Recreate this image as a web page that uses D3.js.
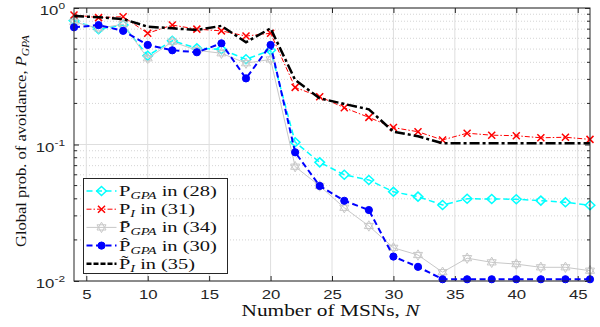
<!DOCTYPE html>
<html>
<head>
<meta charset="utf-8">
<script src="https://cdn.jsdelivr.net/npm/d3@7"></script>
<style>
  html, body { margin: 0; padding: 0; background: #fff; }
  svg { display: block; }
</style>
</head>
<body>
<svg id="chart" width="600" height="327"></svg>
<script>
// number of MSNs
const nValues = [4, 6, 8, 10, 12, 14, 16, 18, 20, 22, 24, 26, 28, 30, 32, 34, 36, 38, 40, 42, 44, 46];

// P_GPA in (28)
const pGpa28 = [0.81, 0.70, 0.75, 0.447, 0.576, 0.507, 0.498, 0.421, 0.49, 0.104, 0.074, 0.060, 0.055, 0.045, 0.0415, 0.036, 0.040, 0.0399, 0.0397, 0.0388, 0.0377, 0.0359];
// P_I in (31)
const pI31 = [0.89, 0.85, 0.864, 0.653, 0.75, 0.70, 0.68, 0.623, 0.653, 0.262, 0.224, 0.186, 0.158, 0.133, 0.124, 0.108, 0.121, 0.117, 0.116, 0.112, 0.113, 0.109];
// bar P_GPA in (34)
const pBar34 = [0.79, 0.71, 0.76, 0.428, 0.566, 0.49, 0.466, 0.394, 0.42, 0.0688, 0.0497, 0.0344, 0.0253, 0.0175, 0.0155, 0.0116, 0.0147, 0.0137, 0.0133, 0.0126, 0.0126, 0.0119];
// hat P_GPA in (30)
const pHat30 = [0.722, 0.75, 0.68, 0.536, 0.49, 0.474, 0.551, 0.305, 0.536, 0.0877, 0.0497, 0.0387, 0.0331, 0.0151, 0.0127, 0.0103, 0.0103, 0.0103, 0.0103, 0.0103, 0.0103, 0.0103];
// tilde P_I in (35)
const pTilde35 = [0.874, 0.855, 0.83, 0.73, 0.71, 0.69, 0.74, 0.561, 0.71, 0.297, 0.218, 0.198, 0.181, 0.124, 0.115, 0.102, 0.102, 0.102, 0.102, 0.102, 0.102, 0.102];

const xTicks = [5, 10, 15, 20, 25, 30, 35, 40, 45];
const yTicks = [0.01, 0.1, 1];
const yTickExp = ['-2', '-1', '0'];

const margin = { left: 74, right: 10, top: 8, bottom: 46 };
const width = 600, height = 327;
const iw = width - margin.left - margin.right;
const ih = height - margin.top - margin.bottom;

const svg = d3.select('#chart');
const g = svg.append('g').attr('transform', `translate(${margin.left},${margin.top})`);

const x = d3.scaleLinear().domain([4, 46]).range([0, iw]);
const y = d3.scaleLog().domain([0.01, 1]).range([ih, 0]);

const sans = '"Liberation Sans", Arial, sans-serif';
const serif = '"Liberation Serif", "DejaVu Serif", serif';
// the original figure was squeezed vertically, so its text looks wide
const stretch = 1.4;

// text inside a group that is scaled sideways; target width sets the scale
function wideText(parent, tx, ty, rot, target) {
  const outer = parent.append('g').attr('transform', `translate(${tx},${ty}) rotate(${rot})`);
  const inner = outer.append('g');
  const t = inner.append('text');
  return {
    t,
    fit() {
      const w = t.node().getComputedTextLength();
      inner.attr('transform', `scale(${(target / w).toFixed(3)},1)`);
    }
  };
}

// minor grid (dotted)
const minor = [];
[0.01, 0.1].forEach(d => { for (let k = 2; k <= 9; k++) minor.push(d * k); });
g.selectAll('.minor-grid').data(minor).enter().append('line')
  .attr('x1', 0).attr('x2', iw)
  .attr('y1', d => y(d)).attr('y2', d => y(d))
  .attr('stroke', '#d4d4d4').attr('stroke-width', 1)
  .attr('stroke-dasharray', '1,2');

// major grid
g.selectAll('.ygrid').data(yTicks).enter().append('line')
  .attr('x1', 0).attr('x2', iw)
  .attr('y1', d => y(d)).attr('y2', d => y(d))
  .attr('stroke', '#dedede').attr('stroke-width', 1);
g.selectAll('.xgrid').data(xTicks).enter().append('line')
  .attr('x1', d => x(d)).attr('x2', d => x(d))
  .attr('y1', 0).attr('y2', ih)
  .attr('stroke', '#dedede').attr('stroke-width', 1);

// axes with ticks pointing in
const tickColor = '#262626';
const xb = g.append('g').attr('transform', `translate(0,${ih})`)
  .call(d3.axisBottom(x).tickValues(xTicks).tickSizeInner(-5).tickSizeOuter(0).tickPadding(9));
const xt = g.append('g')
  .call(d3.axisTop(x).tickValues(xTicks).tickSizeInner(-5).tickSizeOuter(0).tickFormat(''));
const yl = g.append('g')
  .call(d3.axisLeft(y).tickValues(yTicks).tickSizeInner(-5).tickSizeOuter(0).tickFormat(''));
const yr = g.append('g').attr('transform', `translate(${iw},0)`)
  .call(d3.axisRight(y).tickValues(yTicks).tickSizeInner(-5).tickSizeOuter(0).tickFormat(''));
[xb, xt, yl, yr].forEach(a => {
  a.select('.domain').remove();
  a.selectAll('line').attr('stroke', tickColor);
});
xb.selectAll('text')
  .attr('font-family', sans)
  .attr('font-size', 12).attr('fill', '#262626')
  .attr('transform', `scale(${stretch},1)`);

// minor ticks left/right
g.selectAll('.minor-l').data(minor).enter().append('line')
  .attr('x1', 0).attr('x2', 3).attr('y1', d => y(d)).attr('y2', d => y(d))
  .attr('stroke', tickColor);
g.selectAll('.minor-r').data(minor).enter().append('line')
  .attr('x1', iw - 3).attr('x2', iw).attr('y1', d => y(d)).attr('y2', d => y(d))
  .attr('stroke', tickColor);

// y tick labels 10^k
yTicks.forEach((d, i) => {
  const t = g.append('text')
    .attr('transform', `translate(-9,${y(d) + 7}) scale(${stretch},1)`)
    .attr('text-anchor', 'end')
    .attr('font-family', sans)
    .attr('font-size', 12).attr('fill', '#262626');
  t.append('tspan').text('10');
  t.append('tspan').attr('font-size', 8.5).attr('dy', -6).text(yTickExp[i]);
});

// series
const series = [
  { vals: pGpa28, color: '#00ffff', width: 1.5, dash: '6,3.5', marker: 'diamond' },
  { vals: pI31, color: '#ff0000', width: 1, dash: '5,2,1.5,2', marker: 'x' },
  { vals: pBar34, color: '#c8c8c8', width: 1, dash: null, marker: 'hexagram' },
  { vals: pHat30, color: '#0000ff', width: 2, dash: '6,3.5', marker: 'dot' },
  { vals: pTilde35, color: '#000000', width: 2.5, dash: '10,3,3,3', marker: null }
];

const line = d3.line().x(d => x(d[0])).y(d => y(d[1]));

function markerPath(type) {
  if (type === 'diamond') return 'M0,-4.5L4.8,0L0,4.5L-4.8,0Z';
  if (type === 'x') return 'M-3.5,-3.5L3.5,3.5M-3.5,3.5L3.5,-3.5';
  if (type === 'hexagram') {
    const r = 5.2;
    const p = deg => [r * Math.sin(deg * Math.PI / 180), -r * Math.cos(deg * Math.PI / 180)];
    const a1 = [0, 120, 240].map(p);
    const a2 = [60, 180, 300].map(p);
    return 'M' + a1.join('L') + 'Z' + 'M' + a2.join('L') + 'Z';
  }
  return null;
}

function drawMarker(sel, s) {
  if (s.marker === 'dot') {
    sel.append('circle').attr('r', 3.6).attr('fill', s.color).attr('stroke', s.color);
  } else if (s.marker) {
    sel.append('path').attr('d', markerPath(s.marker))
      .attr('fill', 'none').attr('stroke', s.color)
      .attr('stroke-width', s.marker === 'hexagram' ? 1 : 1.5);
  }
}

series.forEach(s => {
  const pts = nValues.map((n, i) => [n, s.vals[i]]);
  g.append('path').datum(pts)
    .attr('d', line)
    .attr('fill', 'none')
    .attr('stroke', s.color)
    .attr('stroke-width', s.width)
    .attr('stroke-dasharray', s.dash);
  if (s.marker) {
    g.selectAll(null).data(pts).enter().append('g')
      .attr('transform', d => `translate(${x(d[0])},${y(d[1])})`)
      .each(function () { drawMarker(d3.select(this), s); });
  }
});

// box
g.append('rect').attr('x', 0).attr('y', 0).attr('width', iw).attr('height', ih)
  .attr('fill', 'none').attr('stroke', tickColor).attr('stroke-width', 1);

// legend
const legendLabels = [
  { main: 'P', sub: 'GPA', ref: ' in (28)', w: 98 },
  { main: 'P', sub: 'I', ref: ' in (31)', w: 76 },
  { main: 'P\u0304', sub: 'GPA', ref: ' in (34)', w: 98 },
  { main: 'P\u0302', sub: 'GPA', ref: ' in (30)', w: 98 },
  { main: 'P\u0303', sub: 'I', ref: ' in (35)', w: 76 }
];
const lg = svg.append('g').attr('transform', 'translate(83.5,178.5)');
lg.append('rect').attr('width', 144).attr('height', 95)
  .attr('fill', '#fff').attr('stroke', tickColor).attr('stroke-width', 1);
series.forEach((s, i) => {
  const cy = 12.5 + i * 18.2;
  const row = lg.append('g').attr('transform', `translate(0,${cy})`);
  row.append('line').attr('x1', 3).attr('x2', 33).attr('y1', 0).attr('y2', 0)
    .attr('stroke', s.color).attr('stroke-width', s.width)
    .attr('stroke-dasharray', s.marker === null ? '5,2' : s.dash);
  if (s.marker) {
    const m = row.append('g').attr('transform', 'translate(18,0)');
    drawMarker(m, s);
  }
  const lt = wideText(row, 35.5, 5, 0, legendLabels[i].w);
  lt.t.attr('font-family', serif).attr('font-size', 15).attr('fill', '#111');
  lt.t.append('tspan').text(legendLabels[i].main);
  lt.t.append('tspan').attr('font-size', 10.5).attr('font-style', 'italic').attr('dy', 3).text(legendLabels[i].sub);
  lt.t.append('tspan').attr('dy', -3).text(legendLabels[i].ref);
  lt.fit();
});

// axis titles
const xl = wideText(svg, 241.5, 316, 0, 178);
xl.t.attr('font-family', serif).attr('font-size', 16).attr('fill', '#111');
xl.t.append('tspan').text('Number of MSNs, ');
xl.t.append('tspan').attr('font-style', 'italic').text('N');
xl.fit();

const ylab = wideText(svg, 26, 247, -90, 212);
ylab.t.attr('font-family', serif).attr('font-size', 15).attr('fill', '#111');
ylab.t.append('tspan').text('Global prob. of avoidance, ');
ylab.t.append('tspan').attr('font-style', 'italic').text('P');
ylab.t.append('tspan').attr('font-style', 'italic').attr('font-size', 10.5).attr('dy', 3).text('GPA');
ylab.fit();
</script>
</body>
</html>
